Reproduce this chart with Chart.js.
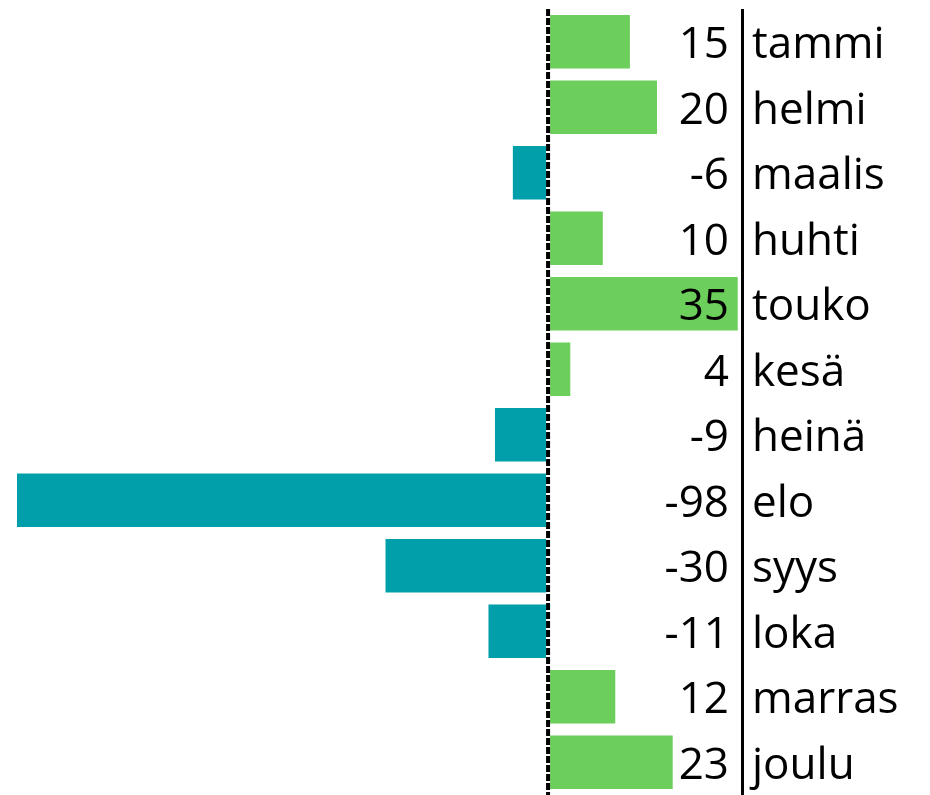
<!DOCTYPE html>
<html>
<head>
<meta charset="utf-8">
<script src="https://cdn.jsdelivr.net/npm/chart.js@4/dist/chart.umd.min.js"></script>
<style>
html,body{margin:0;padding:0;background:#fff;}
#wrap{width:930px;height:795px;position:relative;}
</style>
</head>
<body>
<div id="wrap"><canvas id="c"></canvas></div>
<script>
const categories = ["tammi","helmi","maalis","huhti","touko","kesä","heinä","elo","syys","loka","marras","joulu"];
const values = [15.1,20.1,-6.5,10.1,35,4.1,-9.8,-98,-30,-11,12.4,23];
const valueLabels = ["15","20","-6","10","35","4","-9","-98","-30","-11","12","23"];
const posColor = "#6CCF5B";
const negColor = "#009FAA";
const FONT = '44px "Open Sans", "Noto Sans", sans-serif';

const overlay = {
  id: 'overlay',
  afterDatasetsDraw(chart) {
    const ctx = chart.ctx;
    const xs = chart.scales.x, ys = chart.scales.y;
    const area = chart.chartArea;
    const x0 = xs.getPixelForValue(0);
    const xr = area.right;
    ctx.save();
    // dashed zero line on white base
    ctx.strokeStyle = '#fff';
    ctx.lineWidth = 4;
    ctx.beginPath();
    ctx.moveTo(x0, area.top);
    ctx.lineTo(x0, 795);
    ctx.stroke();
    ctx.strokeStyle = '#000';
    ctx.lineWidth = 4;
    ctx.setLineDash([7, 2]);
    ctx.beginPath();
    ctx.moveTo(x0, area.top);
    ctx.lineTo(x0, 795);
    ctx.stroke();
    ctx.setLineDash([]);
    // right solid line
    ctx.lineWidth = 3;
    ctx.beginPath();
    ctx.moveTo(xr + 1.5, area.top);
    ctx.lineTo(xr + 1.5, 795);
    ctx.stroke();
    // labels
    ctx.font = FONT;
    ctx.fillStyle = '#000';
    ctx.textBaseline = 'middle';
    categories.forEach((cat, i) => {
      const y = ys.getPixelForValue(i) + 4;
      ctx.textAlign = 'right';
      ctx.fillText(valueLabels[i], xr - 12, y);
      ctx.textAlign = 'left';
      ctx.fillText(cat, xr + 11, y);
    });
    ctx.restore();
  }
};

new Chart(document.getElementById('c'), {
  type: 'bar',
  data: {
    labels: categories,
    datasets: [{
      data: values,
      backgroundColor: values.map(v => v >= 0 ? posColor : negColor),
      borderWidth: 0,
      categoryPercentage: 0.82,
      barPercentage: 1.0
    }]
  },
  options: {
    indexAxis: 'y',
    responsive: true,
    maintainAspectRatio: false,
    animation: false,
    layout: { padding: { left: 17, right: 189, top: 9, bottom: -3 } },
    plugins: { legend: { display: false }, tooltip: { enabled: false } },
    scales: {
      x: { display: false, min: -98, max: 35.6 },
      y: { display: false }
    }
  },
  plugins: [overlay]
});
</script>
</body>
</html>
